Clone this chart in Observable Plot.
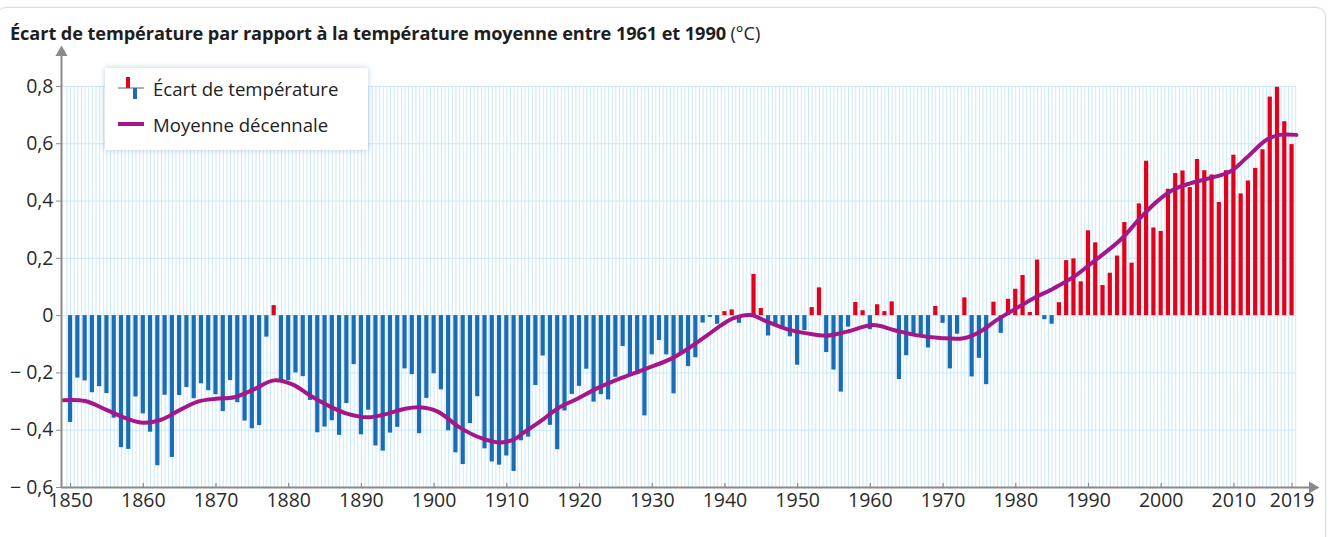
<!DOCTYPE html>
<html>
<head>
<meta charset="utf-8">
<script src="https://cdn.jsdelivr.net/npm/d3@7"></script>
<script src="https://cdn.jsdelivr.net/npm/@observablehq/plot@0.6"></script>
<style>
  html, body { margin: 0; padding: 0; background: #fff; }
  #wrap { position: relative; width: 1332px; height: 537px; overflow: hidden; font-family: "Open Sans", sans-serif; }
  #frame { position: absolute; left: -4px; top: 7px; width: 1328px; height: 540px; border: 1px solid #dcdcdc; border-radius: 10px; box-shadow: 0 0 3px rgba(0,0,0,0.08); }
  #title { position: absolute; left: 10px; top: 22px; font-size: 18.2px; line-height: 22px; color: #1e1e1e; font-weight: 700; white-space: nowrap; letter-spacing: -0.1px; }
  #title span { font-weight: 400; }
  #chart { position: absolute; left: 0; top: 40px; }
  #legend { position: absolute; left: 105px; top: 68px; width: 263px; height: 82px; background: #fff; box-shadow: 0 0 6px rgba(120,150,180,0.45); font-size: 18.6px; color: #222; }
  #legend .row { position: absolute; left: 13px; display: flex; align-items: center; }
  #legend .row span { margin-left: 9px; }
</style>
</head>
<body>
<div id="wrap">
  <div id="frame"></div>
  <div id="title">Écart de température par rapport à la température moyenne entre 1961 et 1990 <span>(°C)</span></div>
  <div id="chart"></div>
  <div id="legend">
    <div class="row" style="top:7px">
      <svg width="26" height="26" viewBox="0 0 26 26"><rect x="8" y="2" width="4" height="11" fill="#e2001a"/><rect x="15" y="13" width="4" height="11" fill="#1a6db5"/><line x1="0" y1="13" x2="26" y2="13" stroke="#556677" stroke-width="1"/></svg>
      <span>Écart de température</span>
    </div>
    <div class="row" style="top:43px">
      <svg width="26" height="26" viewBox="0 0 26 26"><line x1="0" y1="13" x2="26" y2="13" stroke="#a5168b" stroke-width="4"/></svg>
      <span>Moyenne décennale</span>
    </div>
  </div>
</div>
<script>
// ---- Data ----
const years = d3.range(1850, 2019);
const anomalies = [
  -0.373,-0.218,-0.228,-0.269,-0.248,-0.272,-0.358,-0.461,-0.467,-0.284,
  -0.343,-0.407,-0.524,-0.278,-0.495,-0.279,-0.251,-0.290,-0.238,-0.262,
  -0.276,-0.335,-0.227,-0.304,-0.368,-0.395,-0.384,-0.075, 0.035,-0.230,
  -0.227,-0.200,-0.213,-0.296,-0.409,-0.389,-0.367,-0.418,-0.307,-0.171,
  -0.416,-0.330,-0.455,-0.473,-0.410,-0.390,-0.186,-0.206,-0.412,-0.289,
  -0.203,-0.259,-0.402,-0.479,-0.520,-0.377,-0.283,-0.465,-0.511,-0.522,
  -0.490,-0.544,-0.437,-0.424,-0.244,-0.141,-0.383,-0.468,-0.333,-0.275,
  -0.247,-0.187,-0.302,-0.276,-0.294,-0.215,-0.108,-0.210,-0.206,-0.350,
  -0.137,-0.087,-0.137,-0.273,-0.131,-0.178,-0.147,-0.026,-0.006,-0.030,
   0.014, 0.020,-0.027,-0.004, 0.144, 0.025,-0.071,-0.038,-0.039,-0.074,
  -0.173,-0.052, 0.028, 0.097,-0.129,-0.190,-0.267,-0.040, 0.046, 0.017,
  -0.049, 0.038, 0.014, 0.048,-0.223,-0.140,-0.068,-0.074,-0.113, 0.032,
  -0.027,-0.186,-0.065, 0.062,-0.214,-0.149,-0.241, 0.047,-0.062, 0.057,
   0.092, 0.140, 0.011, 0.194,-0.014,-0.030, 0.045, 0.192, 0.198, 0.118,
   0.296, 0.254, 0.105, 0.148, 0.208, 0.325, 0.183, 0.390, 0.539, 0.306,
   0.294, 0.441, 0.496, 0.505, 0.447, 0.545, 0.506, 0.491, 0.395, 0.506,
   0.560, 0.425, 0.470, 0.514, 0.579, 0.763, 0.797, 0.677, 0.597
];
const decadeYears = [1849,1852,1855,1858,1860,1862.5,1865,1867.5,1870,1872.5,1875,1878,1880.5,1883,1885.5,1888,1891,1893.5,1896,1898,1900.5,1903.5,1906.5,1909,1911,1912.5,1915,1917,1919.7,1922.4,1925.6,1929.3,1932.5,1935,1937.5,1939.5,1941.2,1943.5,1945.8,1948.5,1951.3,1954,1956.8,1960.4,1963.2,1966.5,1969.6,1972.8,1975.1,1977.4,1979.7,1982.4,1985.2,1988,1990.7,1994.3,1997.1,1999.4,2001.7,2004,2006.7,2009.5,2011.7,2014.5,2016.3,2018.6];
const decadeValues = [-0.295,-0.298,-0.33,-0.362,-0.374,-0.363,-0.33,-0.30,-0.29,-0.285,-0.26,-0.226,-0.24,-0.28,-0.315,-0.342,-0.355,-0.343,-0.325,-0.32,-0.335,-0.39,-0.428,-0.443,-0.432,-0.405,-0.362,-0.324,-0.29,-0.254,-0.219,-0.184,-0.152,-0.114,-0.07,-0.033,-0.009,0.002,-0.021,-0.047,-0.062,-0.07,-0.056,-0.033,-0.05,-0.069,-0.078,-0.079,-0.056,-0.015,0.02,0.06,0.095,0.136,0.189,0.262,0.34,0.398,0.44,0.462,0.48,0.503,0.55,0.614,0.631,0.631];
const yTicks = [-0.6,-0.4,-0.2,0,0.2,0.4,0.6,0.8];
const yTickLabels = ["− 0,6","− 0,4","− 0,2","0","0,2","0,4","0,6","0,8"];
const xTicks = [1850,1860,1870,1880,1890,1900,1910,1920,1930,1940,1950,1960,1970,1980,1990,2000,2010,2018];
const xTickLabels = ["1850","1860","1870","1880","1890","1900","1910","1920","1930","1940","1950","1960","1970","1980","1990","2000","2010","2019"];

// ---- Build ----
const bars = years.map((year, i) => ({year, value: anomalies[i], sign: anomalies[i] >= 0 ? "pos" : "neg"}));
const decadal = decadeYears.map((year, i) => ({year, value: decadeValues[i]}));
const gridX = years.flatMap(y => [y - 0.5, y]).concat([years[years.length - 1] + 0.5]);

const axisColor = "#8a8a8a";
const gridColor = "#cbe8f7";
const xMin = 1848.75, xMax = 2021.5, yMin = -0.6, yTop = 0.936;

const chart = Plot.plot({
  width: 1332,
  height: 497,
  marginLeft: 61,
  marginRight: 15,
  marginTop: 7,
  marginBottom: 50,
  x: {domain: [xMin, xMax]},
  y: {domain: [yMin, yTop]},
  color: {domain: ["neg", "pos"], range: ["#1a6db5", "#e2001a"]},
  style: {fontFamily: "'Open Sans', sans-serif", fontSize: "19.5px", color: "#2a2a2a", background: "transparent", overflow: "visible"},
  marks: [
    Plot.ruleY(yTicks, {x1: xMin, x2: 2018.5, stroke: gridColor, strokeWidth: 1}),
    Plot.ruleX(gridX, {y1: yMin, y2: 0.8, stroke: gridColor, strokeWidth: 1}),
    Plot.rectY(bars, {x1: d => d.year - 0.29, x2: d => d.year + 0.29, y: "value", fill: "sign"}),
    Plot.line(decadal, {x: "year", y: "value", stroke: "#a5168b", strokeWidth: 4, curve: "catmull-rom"}),
    Plot.axisY(yTicks, {tickFormat: d => yTickLabels[yTicks.indexOf(d)], tickSize: 5, tickPadding: 3, stroke: axisColor, fill: "#2a2a2a", label: null}),
    Plot.axisX(xTicks, {tickFormat: d => xTickLabels[xTicks.indexOf(d)], tickSize: 0, tickPadding: 6, fill: "#2a2a2a", label: null}),
    Plot.ruleX(xTicks, {y1: yMin, y2: yMin + 0.014, stroke: axisColor, strokeWidth: 1.2}),
    Plot.ruleX([xMin], {y1: yMin, y2: yTop - 0.02, stroke: axisColor, strokeWidth: 2}),
    Plot.ruleY([yMin], {x1: xMin, x2: xMax - 1, stroke: axisColor, strokeWidth: 2}),
    Plot.dot([[xMin, yTop]], {x: d => d[0], y: d => d[1], symbol: "triangle", r: 4.5, fill: axisColor, stroke: null, dy: 5}),
    Plot.dot([[xMax, yMin]], {x: d => d[0], y: d => d[1], symbol: "triangle", r: 4.5, fill: axisColor, stroke: null, dx: -5, rotate: 90})
  ]
});
document.getElementById("chart").appendChild(chart);
</script>
</body>
</html>
